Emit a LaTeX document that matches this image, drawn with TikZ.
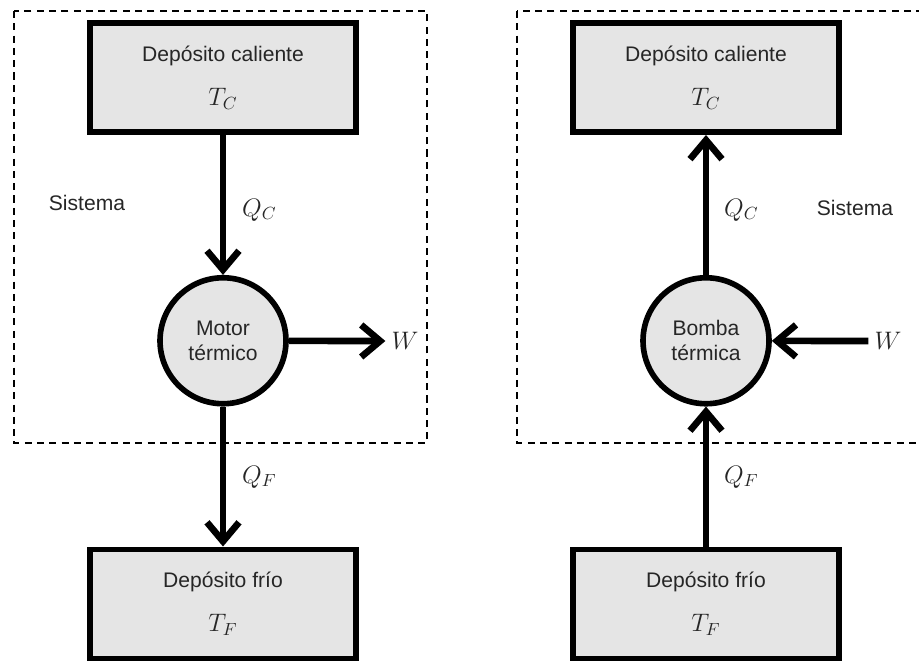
\documentclass[tikz,border=0pt]{standalone}
\usepackage{fontspec}
\setsansfont{Liberation Sans}
\usetikzlibrary{arrows.meta,positioning}

\newcommand{\qsize}{\fontsize{14.4}{16}\selectfont}

\begin{document}
\begin{tikzpicture}[
		x=0.02cm, y=-0.02cm,
		font=\sffamily\fontsize{12}{14}\selectfont,
		text=black!85,
		>={Straight Barb[length=3.8mm,width=6.4mm]},
		tankblock/.style={draw, line width=3.4pt, fill=gray!20, minimum width=5.34cm, minimum height=2.18cm, align=center},
		engineblock/.style={draw, circle, line width=3.2pt, fill=gray!20, minimum size=2.52cm, inner sep=0pt, align=center},
		sysframe/.style={line width=0.6pt, dash pattern=on 4pt off 3pt},
		qlabel/.style={font=\qsize},
		flow/.style={line width=3.8pt,->},
		node distance=2.8cm
		]

		\clip (0,0) rectangle (919,662);

		% system boundaries
		\draw[sysframe] (14,11) rectangle (427,443);
		\draw[sysframe] (517,11) rectangle (940,443);

		% heat engine
		\node[tankblock] (hotL) at (223,77.5) {Depósito caliente\\[11pt]{\qsize$T_C$}};
		\node[engineblock,below=of hotL] (motor) {Motor\\térmico};
		\node[tankblock,below=of motor] (coldL) {Depósito frío\\[11pt]{\qsize$T_F$}};
		\node[qlabel] (wL) at (405,341) {$W$};
		\node (sysL) at (87,203) {Sistema};
		\node[qlabel,anchor=west] (qcL) at (236,210) {$Q_C$};
		\node[qlabel,anchor=west] (qfL) at (236,477) {$Q_F$};

		\draw[flow] (hotL) -- (motor);
		\draw[flow] (motor) -- (coldL);
		\draw[flow] (motor) -- (wL.west);

		% heat pump
		\node[tankblock] (hotR) at (706,77.5) {Depósito caliente\\[11pt]{\qsize$T_C$}};
		\node[engineblock,below=of hotR] (pump) {Bomba\\térmica};
		\node[tankblock,below=of pump] (coldR) {Depósito frío\\[11pt]{\qsize$T_F$}};
		\node[qlabel] (wR) at (888,341) {$W$};
		\node (sysR) at (855,208) {Sistema};
		\node[qlabel,anchor=west] (qcR) at (718,210) {$Q_C$};
		\node[qlabel,anchor=west] (qfR) at (718,477) {$Q_F$};

		\draw[flow] (coldR) -- (pump);
		\draw[flow] (pump) -- (hotR);
		\draw[flow] (wR.west) -- (pump);
	\end{tikzpicture}
\end{document}
